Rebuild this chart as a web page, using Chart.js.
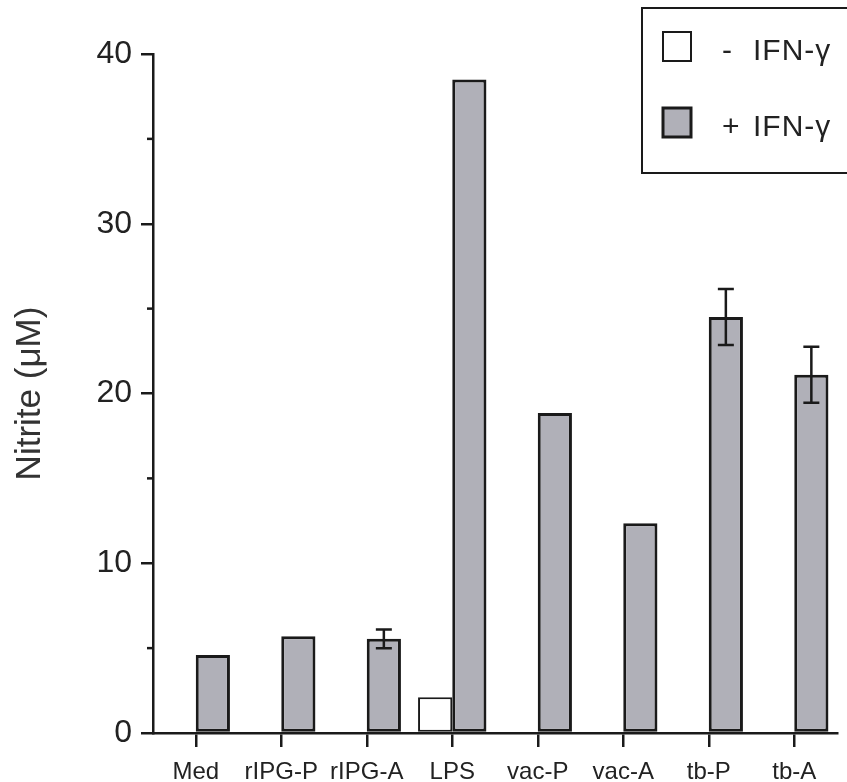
<!DOCTYPE html>
<html>
<head>
<meta charset="utf-8">
<script src="https://cdn.jsdelivr.net/npm/chart.js@4.4.1/dist/chart.umd.min.js"></script>
<style>
html, body { margin: 0; padding: 0; background: #fff; }
</style>
</head>
<body>
<canvas id="myChart" width="847" height="782"></canvas>
<script>
// data
const labels = ['Med', 'rIPG-P', 'rIPG-A', 'LPS', 'vac-P', 'vac-A', 'tb-P', 'tb-A'];
const withoutIfn = [null, null, null, 2.1, null, null, null, null];
const withIfn = [4.6, 5.7, 5.55, 38.5, 18.85, 12.35, 24.5, 21.1];
const withIfnErr = [0, 0, 0.55, 0, 0, 0, 1.65, 1.65];
const yMinorTicks = [5, 15, 25, 35];

const ink = '#1a1a1a';
const greyFill = '#b0b0b8';
const fontFamily = '"Liberation Sans", Arial, sans-serif';

// short ticks between the labelled ones
const minorTicks = {
    id: 'minorTicks',
    afterDraw(chart) {
        const ctx = chart.ctx, y = chart.scales.y, left = chart.chartArea.left;
        ctx.save();
        ctx.strokeStyle = ink;
        ctx.lineWidth = 2.5;
        yMinorTicks.forEach(v => {
            const py = y.getPixelForValue(v);
            ctx.beginPath();
            ctx.moveTo(left - 6, py);
            ctx.lineTo(left, py);
            ctx.stroke();
        });
        ctx.restore();
    }
};

const errorBars = {
    id: 'errorBars',
    afterDatasetsDraw(chart) {
        const ctx = chart.ctx, y = chart.scales.y;
        const meta = chart.getDatasetMeta(1);
        ctx.save();
        ctx.strokeStyle = ink;
        ctx.lineWidth = 2.5;
        withIfnErr.forEach((err, i) => {
            if (!err) return;
            const bar = meta.data[i];
            const up = y.getPixelForValue(withIfn[i] + err);
            const lo = y.getPixelForValue(withIfn[i] - err);
            ctx.beginPath();
            ctx.moveTo(bar.x, up);
            ctx.lineTo(bar.x, lo);
            ctx.moveTo(bar.x - 8, up);
            ctx.lineTo(bar.x + 8, up);
            ctx.moveTo(bar.x - 8, lo);
            ctx.lineTo(bar.x + 8, lo);
            ctx.stroke();
        });
        ctx.restore();
    }
};

// boxed legend in the top right corner, partly cut off like the original
const boxLegend = {
    id: 'boxLegend',
    afterDraw(chart) {
        const ctx = chart.ctx;
        ctx.save();
        ctx.strokeStyle = ink;
        ctx.lineWidth = 2;
        ctx.strokeRect(642, 8, 260, 165);
        ctx.font = '30px ' + fontFamily;
        ctx.letterSpacing = '1px';
        ctx.textBaseline = 'middle';
        chart.data.datasets.forEach((ds, i) => {
            const top = 32 + i * 76;
            ctx.fillStyle = ds.backgroundColor;
            ctx.fillRect(663, top, 28, 29);
            ctx.strokeStyle = ink;
            ctx.lineWidth = ds.borderWidth;
            ctx.strokeRect(663, top, 28, 29);
            ctx.fillStyle = '#222';
            const sign = ds.label.slice(0, 1);
            const name = ds.label.slice(1).trim();
            ctx.fillText(sign, 722, top + 20);
            ctx.fillText(name, 753, top + 20);
        });
        ctx.restore();
    }
};

const config = {
    type: 'bar',
    data: {
        labels: labels,
        datasets: [
            {
                label: '- IFN-γ',
                data: withoutIfn,
                backgroundColor: '#ffffff',
                borderColor: ink,
                borderWidth: 2,
                borderSkipped: false,
                categoryPercentage: 0.8,
                barPercentage: 1.0
            },
            {
                label: '+ IFN-γ',
                data: withIfn,
                backgroundColor: greyFill,
                borderColor: ink,
                borderWidth: 3,
                borderSkipped: false,
                categoryPercentage: 0.8,
                barPercentage: 1.0
            }
        ]
    },
    options: {
        responsive: false,
        animation: false,
        layout: { padding: { top: 54, right: 10, left: 3, bottom: 0 } },
        plugins: {
            legend: { display: false },
            tooltip: { enabled: false }
        },
        scales: {
            x: {
                offset: true,
                grid: {
                    offset: false,
                    drawOnChartArea: false,
                    tickLength: 14,
                    tickColor: ink,
                    lineWidth: 2.5
                },
                border: { display: true, color: ink, width: 2.5 },
                ticks: {
                    color: '#222',
                    padding: 11,
                    maxRotation: 0,
                    autoSkip: false,
                    font: { family: fontFamily, size: 24 }
                },
                afterFit(scale) { scale.height = 49; }
            },
            y: {
                min: 0,
                max: 40,
                ticks: {
                    stepSize: 10,
                    color: '#222',
                    padding: 9,
                    font: { family: fontFamily, size: 32 }
                },
                grid: {
                    drawOnChartArea: false,
                    tickLength: 12,
                    tickColor: ink,
                    lineWidth: 2.5
                },
                border: { display: true, color: ink, width: 2.5 },
                title: {
                    display: true,
                    text: 'Nitrite (μM)',
                    color: '#333',
                    padding: { top: 6, bottom: 0 },
                    font: { family: fontFamily, size: 35 }
                },
                afterFit(scale) { scale.width = 150; }
            }
        }
    },
    plugins: [minorTicks, errorBars, boxLegend]
};

const chart = new Chart(document.getElementById('myChart'), config);
</script>
</body>
</html>
